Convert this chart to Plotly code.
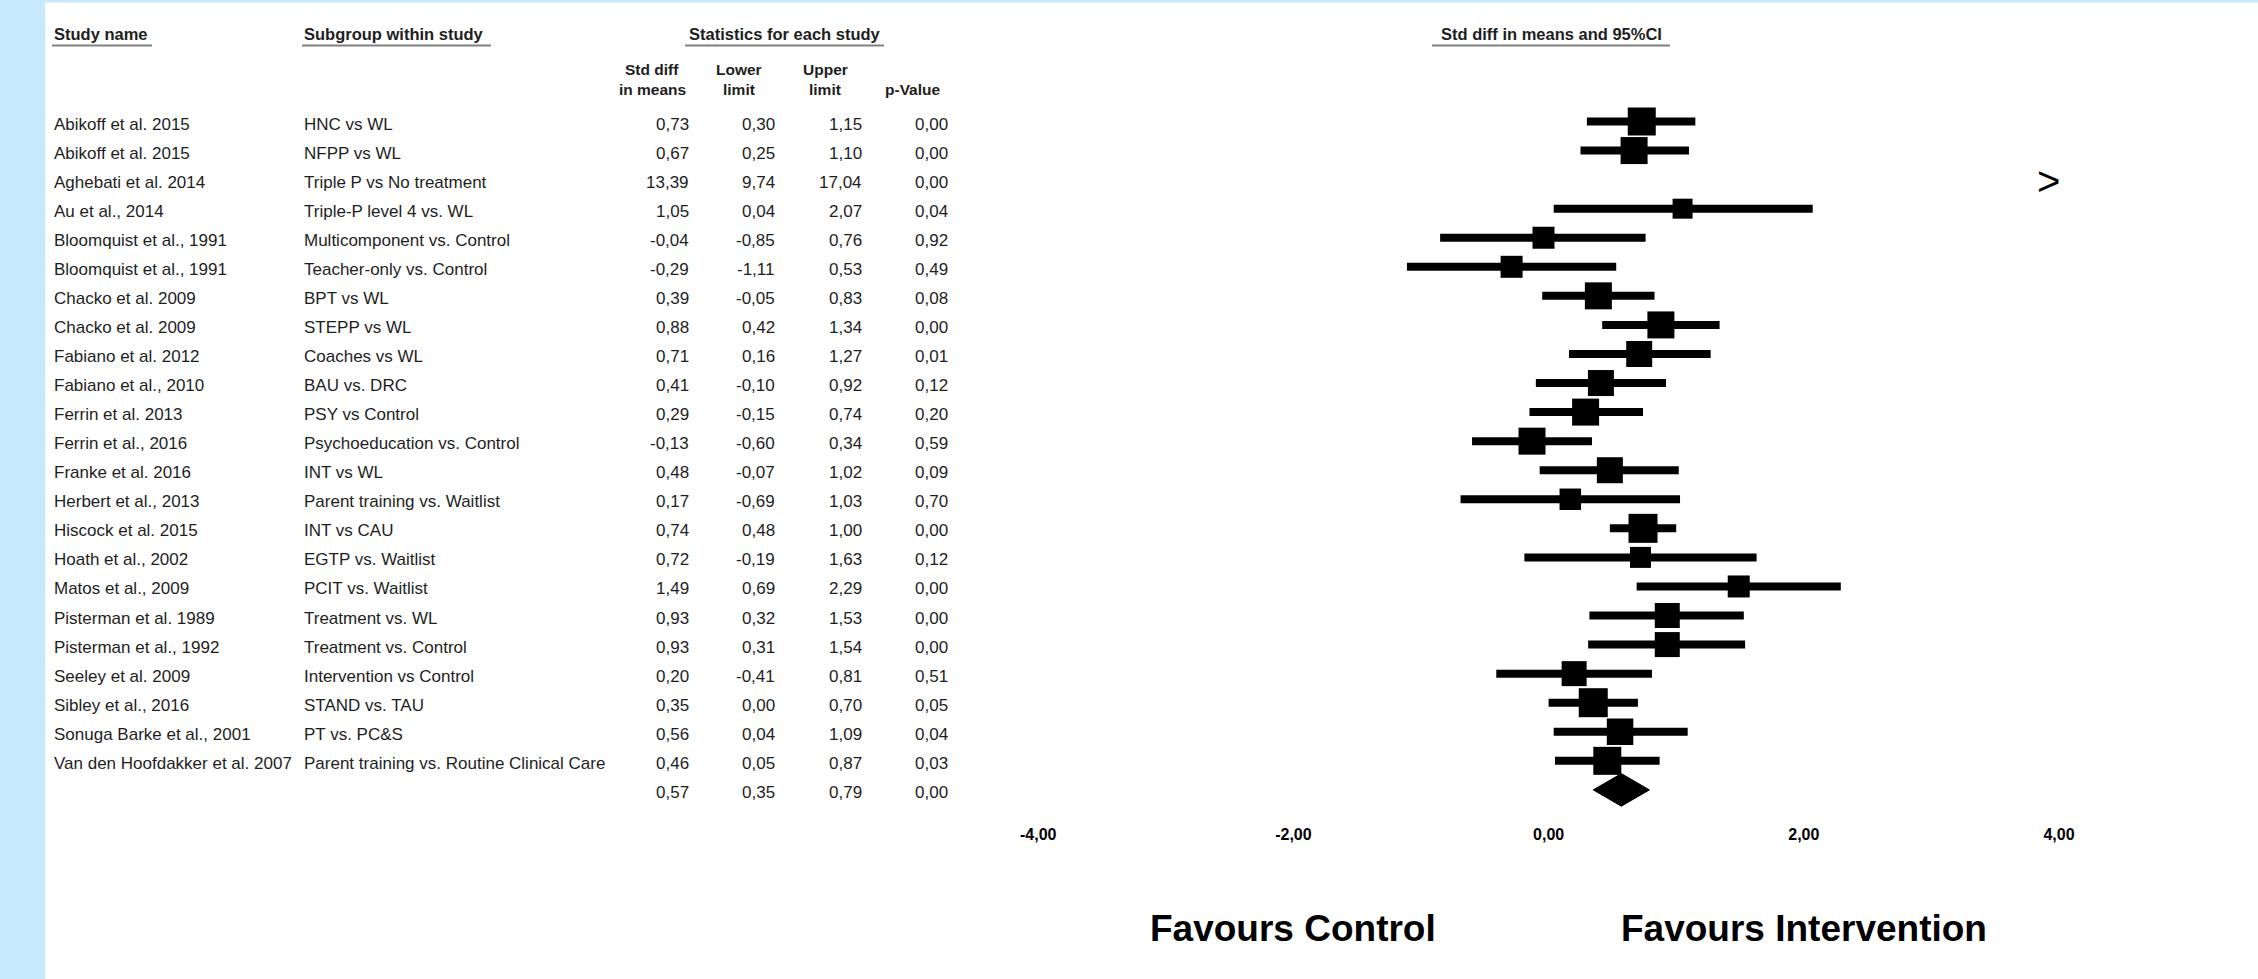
import math
import plotly.graph_objects as go

# ---------------- data ----------------
study_names = [
    "Abikoff et al. 2015", "Abikoff et al. 2015", "Aghebati et al. 2014", "Au et al., 2014",
    "Bloomquist et al., 1991", "Bloomquist et al., 1991", "Chacko et al. 2009", "Chacko et al. 2009",
    "Fabiano et al. 2012", "Fabiano et al., 2010", "Ferrin et al. 2013", "Ferrin et al., 2016",
    "Franke et al. 2016", "Herbert et al., 2013", "Hiscock et al. 2015", "Hoath et al., 2002",
    "Matos et al., 2009", "Pisterman et al. 1989", "Pisterman et al., 1992", "Seeley et al. 2009",
    "Sibley et al., 2016", "Sonuga Barke et al., 2001", "Van den Hoofdakker et al. 2007",
]
subgroups = [
    "HNC vs WL", "NFPP vs WL", "Triple P vs No treatment", "Triple-P level 4 vs. WL",
    "Multicomponent vs. Control", "Teacher-only vs. Control", "BPT vs WL", "STEPP vs WL",
    "Coaches vs WL", "BAU vs. DRC", "PSY vs Control", "Psychoeducation vs. Control",
    "INT vs WL", "Parent training vs. Waitlist", "INT vs CAU", "EGTP vs. Waitlist",
    "PCIT vs. Waitlist", "Treatment vs. WL", "Treatment vs. Control", "Intervention vs Control",
    "STAND vs. TAU", "PT vs. PC&amp;S", "Parent training vs. Routine Clinical Care",
]
std_diff = [0.73, 0.67, 13.39, 1.05, -0.04, -0.29, 0.39, 0.88, 0.71, 0.41, 0.29, -0.13,
            0.48, 0.17, 0.74, 0.72, 1.49, 0.93, 0.93, 0.20, 0.35, 0.56, 0.46]
lower = [0.30, 0.25, 9.74, 0.04, -0.85, -1.11, -0.05, 0.42, 0.16, -0.10, -0.15, -0.60,
         -0.07, -0.69, 0.48, -0.19, 0.69, 0.32, 0.31, -0.41, 0.00, 0.04, 0.05]
upper = [1.15, 1.10, 17.04, 2.07, 0.76, 0.53, 0.83, 1.34, 1.27, 0.92, 0.74, 0.34,
         1.02, 1.03, 1.00, 1.63, 2.29, 1.53, 1.54, 0.81, 0.70, 1.09, 0.87]
p_value = [0.00, 0.00, 0.00, 0.04, 0.92, 0.49, 0.08, 0.00, 0.01, 0.12, 0.20, 0.59,
           0.09, 0.70, 0.00, 0.12, 0.00, 0.00, 0.00, 0.51, 0.05, 0.04, 0.03]
# relative weights (%) estimated from the square sizes
rel_weight = [5.39, 5.01, 2.00, 2.75, 3.33, 3.33, 5.01, 5.01, 4.65, 4.65, 5.01, 5.01,
              4.65, 3.18, 5.78, 3.03, 3.33, 4.30, 4.30, 4.30, 5.78, 4.83, 5.39]

summary_est, summary_lo, summary_hi, summary_p = 0.57, 0.35, 0.79, 0.00

tick_values = [-4, -2, 0, 2, 4]
tick_labels = ["-4,00", "-2,00", "0,00", "2,00", "4,00"]
favours_left, favours_right = "Favours Control", "Favours Intervention"

# ---------------- geometry ----------------
W, H = 2258, 979
def fx(px):
    return px / W
def fy(py):
    return 1 - py / H

ROW0_PX = 121.5
PITCH = 29.06
PLOT_BOTTOM_PX = 823
ymax = ROW0_PX / PITCH
ymin = ymax - PLOT_BOTTOM_PX / PITCH

X_PX0 = 1548.6
X_SCALE = 127.6
XR = (-4.2, 4.2)
AXIS_MAX = 4
x_domain = [(X_PX0 + XR[0] * X_SCALE) / W, (X_PX0 + XR[1] * X_SCALE) / W]

FONT = "Liberation Sans, Arial, Helvetica, sans-serif"
TXT = "#1e1e1e"

def fmt(v):
    return f"{v:.2f}".replace(".", ",")

n = len(study_names)
rows = [-i for i in range(n)]
summary_row = -n

fig = go.Figure()

# CI lines
xs, ys = [], []
for i in range(n):
    xs += [lower[i], upper[i], None]
    ys += [rows[i], rows[i], None]
fig.add_trace(go.Scatter(x=xs, y=ys, mode="lines",
                         line=dict(color="black", width=8),
                         hoverinfo="skip", showlegend=False))

# squares
k = 28 / math.sqrt(5.39)
fig.add_trace(go.Scatter(x=std_diff, y=rows, mode="markers",
                         marker=dict(symbol="square", color="black", opacity=1,
                                     size=[k * math.sqrt(w) for w in rel_weight],
                                     line=dict(width=0)),
                         hoverinfo="skip", showlegend=False))

# summary diamond
hh = 16.3 / PITCH
fig.add_trace(go.Scatter(
    x=[summary_lo, summary_est, summary_hi, summary_est, summary_lo],
    y=[summary_row, summary_row + hh, summary_row, summary_row - hh, summary_row],
    mode="lines", fill="toself", fillcolor="black", line=dict(color="black", width=1),
    hoverinfo="skip", showlegend=False))

ann = []

def add_text(text, x, y, size=17, bold=False, xanchor="left", xref="paper", yref="paper",
             yshift=0, xshift=0, color=TXT):
    ann.append(dict(text=text, x=x, y=y, xref=xref, yref=yref, showarrow=False,
                    xanchor=xanchor, yanchor="middle", yshift=yshift, xshift=xshift,
                    font=dict(family=FONT, size=size, color=color,
                              weight="bold" if bold else "normal")))

# row texts
TY = -2.5
for i in range(n):
    add_text(study_names[i], fx(52), rows[i], yref="y", yshift=TY)
    add_text(subgroups[i], fx(302), rows[i], yref="y", yshift=TY)
    add_text(fmt(std_diff[i]), fx(691), rows[i], xanchor="right", yref="y", yshift=TY)
    add_text(fmt(lower[i]), fx(777), rows[i], xanchor="right", yref="y", yshift=TY)
    add_text(fmt(upper[i]), fx(864), rows[i], xanchor="right", yref="y", yshift=TY)
    add_text(fmt(p_value[i]), fx(950), rows[i], xanchor="right", yref="y", yshift=TY)
    if std_diff[i] > AXIS_MAX:
        ann.append(dict(text="&gt;", x=AXIS_MAX, y=rows[i], xref="x", yref="y",
                        showarrow=False, xanchor="right", yanchor="middle", xshift=3, yshift=-1,
                        font=dict(family=FONT, size=40, color="black")))

for v, px in [(summary_est, 691), (summary_lo, 777), (summary_hi, 864), (summary_p, 950)]:
    add_text(fmt(v), fx(px), summary_row, xanchor="right", yref="y", yshift=TY)

# headers
add_text("Study name", fx(52), fy(34), size=16.5, bold=True)
add_text("Subgroup within study", fx(302), fy(34), size=16.5, bold=True)
add_text("Statistics for each study", fx(785), fy(34), size=16.5, bold=True, xanchor="center")
add_text("Std diff in means and 95%CI", fx(1551), fy(34), size=16.5, bold=True, xanchor="center")
add_text("Std diff", fx(652), fy(69), size=15.5, bold=True, xanchor="center")
add_text("in means", fx(652), fy(89), size=15.5, bold=True, xanchor="center")
add_text("Lower", fx(738.5), fy(69), size=15.5, bold=True, xanchor="center")
add_text("limit", fx(738.5), fy(89), size=15.5, bold=True, xanchor="center")
add_text("Upper", fx(825), fy(69), size=15.5, bold=True, xanchor="center")
add_text("limit", fx(825), fy(89), size=15.5, bold=True, xanchor="center")
add_text("p-Value", fx(913), fy(89), size=15.5, bold=True, xanchor="center")

# favours labels
add_text(favours_left, tick_values[1], fy(928), size=37, bold=True, xanchor="center",
         xref="x", color="black")
add_text(favours_right, tick_values[3], fy(928), size=37, bold=True, xanchor="center",
         xref="x", color="black")

shapes = [
    dict(type="rect", xref="paper", yref="paper", x0=0, x1=fx(45), y0=0, y1=1,
         fillcolor="#C6E9FB", line=dict(width=0), layer="below"),
    dict(type="rect", xref="paper", yref="paper", x0=0, x1=1, y0=fy(2.5), y1=1,
         fillcolor="#C6E9FB", line=dict(width=0), layer="below"),
]
for x0, x1 in [(52, 152), (302, 491), (685, 884), (1432, 1670)]:
    shapes.append(dict(type="line", xref="paper", yref="paper", x0=fx(x0), x1=fx(x1),
                       y0=fy(45.5), y1=fy(45.5), line=dict(color="#808080", width=2)))

fig.update_layout(
    width=W, height=H,
    margin=dict(l=0, r=0, t=0, b=0),
    paper_bgcolor="white", plot_bgcolor="rgba(0,0,0,0)",
    showlegend=False,
    annotations=ann,
    shapes=shapes,
    xaxis=dict(domain=x_domain, range=list(XR), showgrid=False, zeroline=False,
               showline=False, ticks="", tickvals=tick_values, ticktext=tick_labels,
               tickfont=dict(family=FONT, size=16, color="black", weight="bold"),
               fixedrange=True),
    yaxis=dict(domain=[fy(PLOT_BOTTOM_PX), 1], range=[ymin, ymax], visible=False,
               fixedrange=True),
)

fig.write_html(
    "out.html",
    config={"displayModeBar": False},
    post_script="document.body.style.margin='0';document.body.style.overflow='hidden';",
)
